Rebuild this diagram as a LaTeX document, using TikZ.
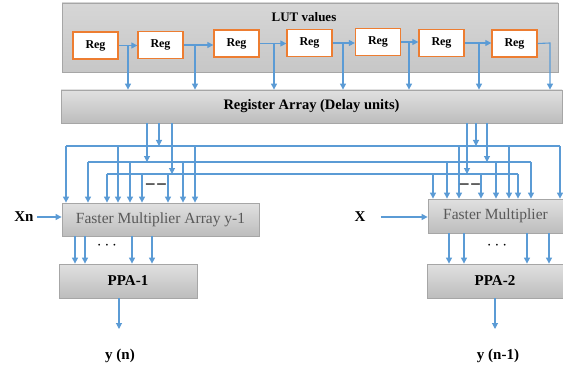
\documentclass[tikz,border=0pt]{standalone}
\usepackage{fontspec}
\setmainfont{Liberation Serif}
\usetikzlibrary{arrows.meta}
\definecolor{wireblue}{HTML}{5B9BD5}
\definecolor{regorange}{HTML}{ED7D31}
\definecolor{boxedge}{HTML}{A6A6A6}
\begin{document}
\begin{tikzpicture}[x=1pt,y=-1pt,
    wire/.style={draw=wireblue,line width=1.1pt},
    arr/.style={wire,-{Triangle[width=6pt,length=6pt]}},
    graybox/.style={draw=boxedge,line width=0.8pt,top color=black!12,bottom color=black!26,inner sep=0pt},
    regbox/.style={draw=regorange,line width=1.3pt,fill=white,minimum width=45pt,minimum height=27pt,inner sep=0pt,font=\bfseries\fontsize{12}{12}\selectfont},
    lbl/.style={font=\bfseries\fontsize{14.5}{14.5}\selectfont},
    big/.style={font=\bfseries\fontsize{15}{15}\selectfont},
    multxt/.style={text=black!65,font=\fontsize{15.5}{15.5}\selectfont}]
    \useasboundingbox (0,0) rectangle (563,369);

    % LUT with the register chain
    \node[draw=boxedge,line width=0.8pt,top color=black!16,bottom color=black!22,minimum width=496pt,minimum height=69pt] (lut) at (310,37.5) {};
    \node[font=\bfseries\fontsize{13}{13}\selectfont] (lutlbl) at (304,17) {LUT values};
    \foreach \n/\x/\y in {1/95.5/45.5,2/160.5/45,3/236.5/43.5,4/309.5/43,5/378/42,6/441.5/43,7/514.5/43.5}
      \node[regbox] (reg\n) at (\x,\y) {Reg};
    \foreach \i/\j in {1/2,2/3,3/4,4/5,5/6,6/7}
      \draw[arr] (reg\i.east) -- (reg\i.east -| reg\j.west);

    \node[graybox,minimum width=501pt,minimum height=33pt,lbl] (regarr) at (311.5,106.5) {Register Array (Delay units)};

    % taps into the register array
    \foreach \i/\x in {1/128,2/195,3/274,4/343,5/409,6/479}
      \draw[arr] (reg\i.east -| \x,0) -- (\x,0 |- regarr.north);
    \coordinate (tap7) at (550,43);
    \draw[arr] (reg7.east) -- (tap7) -- (tap7 |- regarr.north);

    \node[graybox,minimum width=197pt,minimum height=33pt,multxt] (mula) at (160.5,219.5) {Faster Multiplier Array y-1};
    \node[graybox,minimum width=135pt,minimum height=34pt,multxt] (mulb) at (495.5,216) {Faster Multiplier};

    % three buses
    \coordinate (busaw) at (66,146);  \coordinate (busae) at (560,146);
    \coordinate (busbw) at (88,162);  \coordinate (busbe) at (531,162);
    \coordinate (buscw) at (107,174); \coordinate (busce) at (518,174);
    \draw[wire] (busaw) -- (busae);
    \draw[wire] (busbw) -- (busbe);
    \draw[wire] (buscw) -- (busce);

    \draw[arr] (147,0 |- regarr.south) -- (147,0 |- busbw);
    \draw[arr] (159,0 |- regarr.south) -- (159,0 |- busaw);
    \draw[arr] (172,0 |- regarr.south) -- (172,0 |- buscw);
    \draw[arr] (467,0 |- regarr.south) -- (467,0 |- buscw);
    \draw[arr] (476,0 |- regarr.south) -- (476,0 |- busaw);
    \draw[arr] (487,0 |- regarr.south) -- (487,0 |- busbw);

    \foreach \x in {66,118,195}  \draw[arr] (\x,0 |- busaw) -- (\x,0 |- mula.north);
    \foreach \x in {88,130,183}  \draw[arr] (\x,0 |- busbw) -- (\x,0 |- mula.north);
    \foreach \x in {107,142,168} \draw[arr] (\x,0 |- buscw) -- (\x,0 |- mula.north);
    \foreach \x in {459,509,560} \draw[arr] (\x,0 |- busaw) -- (\x,0 |- mulb.north);
    \foreach \x in {447,496,531} \draw[arr] (\x,0 |- busbw) -- (\x,0 |- mulb.north);
    \foreach \x in {433,481,518} \draw[arr] (\x,0 |- buscw) -- (\x,0 |- mulb.north);

    \node[font=\bfseries\fontsize{17}{17}\selectfont] (dasha) at (156,186) {--\,--};
    \node[font=\bfseries\fontsize{17}{17}\selectfont] (dashb) at (470,186) {--\,--};

    % inputs
    \node[big] (xn) at (24,217) {Xn};
    \node[big] (xr) at (360,217) {X};
    \draw[arr] (xn.east) -- (xn.east -| mula.west);
    \draw[arr] (xr.east) ++(12,0) -- (xr.east -| mulb.west);

    \node[graybox,minimum width=138pt,minimum height=34pt,big] (ppa1) at (128,281) {PPA-1};
    \node[graybox,minimum width=136pt,minimum height=34pt,big] (ppa2) at (495,281) {PPA-2};

    \foreach \x in {75,85,132,152} \draw[arr] (\x,0 |- mula.south) -- (\x,0 |- ppa1.north);
    \foreach \x in {449,464,527,549} \draw[arr] (\x,0 |- mulb.south) -- (\x,0 |- ppa2.north);
    \node[font=\fontsize{16}{16}\selectfont] (dotsa) at (107,246) {$\cdots$};
    \node[font=\fontsize{16}{16}\selectfont] (dotsb) at (497,246) {$\cdots$};

    % outputs
    \node[big] (ya) at (120,356) {y (n)};
    \node[big] (yb) at (498,356) {y (n-1)};
    \coordinate (outa) at (119,329);
    \coordinate (outb) at (495,329);
    \draw[arr] (ppa1.south -| outa) -- (outa);
    \draw[arr] (ppa2.south -| outb) -- (outb);
\end{tikzpicture}
\end{document}
